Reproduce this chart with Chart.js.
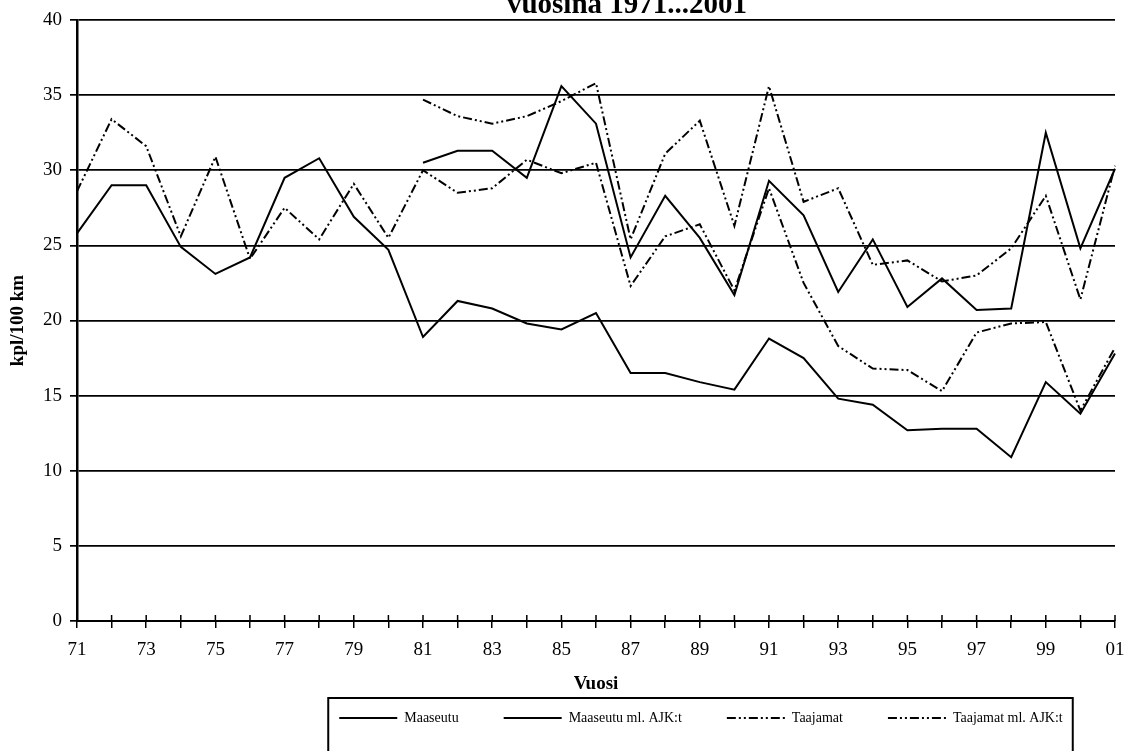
<!DOCTYPE html>
<html lang="fi">
<head>
<meta charset="utf-8">
<title>kpl/100 km vuosina 1971...2001</title>
<script src="https://cdn.jsdelivr.net/npm/chart.js@4.4.1/dist/chart.umd.min.js"></script>
<style>
    html, body { margin: 0; padding: 0; background: #fff; overflow: hidden; }
    #kaavio { position: absolute; left: 0; top: -9px; width: 1126px; height: 773px; }
</style>
</head>
<body>
<div id="kaavio"><canvas id="onnettomuudet"></canvas></div>
<script>
const vuodet = ['71', '72', '73', '74', '75', '76', '77', '78', '79', '80',
    '81', '82', '83', '84', '85', '86', '87', '88', '89', '90',
    '91', '92', '93', '94', '95', '96', '97', '98', '99', '00', '01'];

const maaseutu = [25.8, 29.0, 29.0, 24.9, 23.1, 24.2, 29.5, 30.8, 26.9, 24.7,
    18.9, 21.3, 20.8, 19.8, 19.4, 20.5, 16.5, 16.5, 15.9, 15.4,
    18.8, 17.5, 14.8, 14.4, 12.7, 12.8, 12.8, 10.9, 15.9, 13.8, 17.8];

const maaseutuAjk = [null, null, null, null, null, null, null, null, null, null,
    30.5, 31.3, 31.3, 29.5, 35.6, 33.1, 24.2, 28.3, 25.5, 21.7,
    29.3, 27.0, 21.9, 25.4, 20.9, 22.8, 20.7, 20.8, 32.5, 24.8, 30.1];

const taajamat = [28.6, 33.4, 31.6, 25.6, 30.9, 24.1, 27.5, 25.4, 29.1, 25.5,
    30.0, 28.5, 28.8, 30.7, 29.8, 30.5, 22.3, 25.6, 26.4, 22.0,
    28.8, 22.5, 18.3, 16.8, 16.7, 15.3, 19.2, 19.8, 19.9, 14.0, 18.2];

const taajamatAjk = [null, null, null, null, null, null, null, null, null, null,
    34.7, 33.6, 33.1, 33.6, 34.6, 35.8, 25.4, 31.1, 33.3, 26.3,
    35.6, 27.9, 28.8, 23.7, 24.0, 22.6, 23.0, 24.8, 28.3, 21.4, 30.3];

const yTicks = [0, 5, 10, 15, 20, 25, 30, 35, 40];

const pisteViiva = [9, 3, 2, 3, 2, 3];

Chart.defaults.font.family = '"Liberation Serif", "Times New Roman", serif';
Chart.defaults.color = '#000';

// otsikon ja selitteen siirto, selitteen kehys, x-akselin sisäpuoliset väliviivat
const kehysPlugin = {
    id: 'kehys',
    afterLayout(chart) {
        const tb = chart.titleBlock;
        const tdx = 627 - (tb.left + tb.right) / 2;
        tb.left += tdx; tb.right += tdx;

        const lg = chart.legend;
        const pad = chart.options.plugins.legend.labels.padding;
        const dx = 701 - (lg.left + lg.right) / 2;
        const dy = 727 - (lg.top + pad + 7);
        lg.left += dx; lg.right += dx;
        lg.top += dy; lg.bottom += dy;
    },
    afterDraw(chart) {
        const ctx = chart.ctx;
        const hb = chart.legend.legendHitBoxes;
        const last = hb[hb.length - 1];
        const x0 = hb[0].left - 11;
        const x1 = last.left + last.width + 10;
        const y0 = hb[0].top - 13;
        ctx.save();
        ctx.strokeStyle = '#000';
        ctx.lineWidth = 2;
        ctx.strokeRect(x0, y0, x1 - x0, 90);

        const xs = chart.scales.x;
        const yb = chart.chartArea.bottom;
        ctx.lineWidth = 1.5;
        ctx.beginPath();
        xs.ticks.forEach((t, i) => {
            const px = xs.getPixelForTick(i);
            ctx.moveTo(px, yb);
            ctx.lineTo(px, yb - 6);
        });
        ctx.stroke();
        ctx.restore();
    }
};

function sarja(nimi, arvot, dash) {
    return {
        label: nimi,
        data: arvot,
        borderColor: '#000',
        backgroundColor: '#000',
        borderWidth: 2,
        borderDash: dash,
        pointRadius: 0,
        pointHoverRadius: 0,
        tension: 0,
        fill: false
    };
}

new Chart(document.getElementById('onnettomuudet'), {
    type: 'line',
    data: {
        labels: vuodet,
        datasets: [
            sarja('Maaseutu', maaseutu, []),
            sarja('Maaseutu ml. AJK:t', maaseutuAjk, []),
            sarja('Taajamat', taajamat, pisteViiva),
            sarja('Taajamat ml. AJK:t', taajamatAjk, pisteViiva)
        ]
    },
    options: {
        responsive: true,
        maintainAspectRatio: false,
        animation: false,
        layout: { padding: { left: 0, right: 0, top: 0, bottom: 0 } },
        plugins: {
            title: {
                display: true,
                text: 'vuosina 1971...2001',
                font: { size: 29, weight: 'bold', lineHeight: 1 },
                padding: { top: 0, bottom: 0 },
                color: '#000'
            },
            legend: {
                position: 'bottom',
                labels: {
                    usePointStyle: true,
                    pointStyle: 'line',
                    pointStyleWidth: 58,
                    padding: 45,
                    font: { size: 14 },
                    color: '#000',
                    generateLabels(chart) {
                        const items = Chart.defaults.plugins.legend.labels.generateLabels(chart);
                        items.forEach((it, i) => {
                            it.lineDash = chart.data.datasets[i].borderDash;
                            it.lineWidth = 1.8;
                            it.strokeStyle = '#000';
                        });
                        return items;
                    }
                }
            },
            tooltip: { enabled: false }
        },
        scales: {
            x: {
                type: 'category',
                offset: false,
                grid: { drawOnChartArea: false, drawTicks: true, tickLength: 7, color: '#000', lineWidth: 1.5 },
                border: { display: true, color: '#000', width: 2 },
                ticks: {
                    autoSkip: false,
                    maxRotation: 0,
                    padding: 11,
                    font: { size: 19 },
                    callback: (v, i) => (i % 2 === 0 ? vuodet[i] : '')
                },
                title: {
                    display: true,
                    text: 'Vuosi',
                    font: { size: 19, weight: 'bold', lineHeight: 1.2 },
                    padding: { top: 0, bottom: 0 }
                },
                afterFit(scale) {
                    scale.height = 74;
                    scale.paddingRight = 11;
                }
            },
            y: {
                min: 0,
                max: 40,
                afterBuildTicks(scale) { scale.ticks = yTicks.map(v => ({ value: v })); },
                grid: { color: '#000', lineWidth: 1.7, tickLength: 7 },
                border: { display: true, color: '#000', width: 2.5 },
                ticks: { padding: 8, font: { size: 19 } },
                title: {
                    display: true,
                    text: 'kpl/100 km',
                    font: { size: 19, weight: 'bold', lineHeight: 1.2 },
                    padding: { top: 7, bottom: 0 }
                },
                afterFit(scale) { scale.width = 77; }
            }
        }
    },
    plugins: [kehysPlugin]
});
</script>
</body>
</html>
